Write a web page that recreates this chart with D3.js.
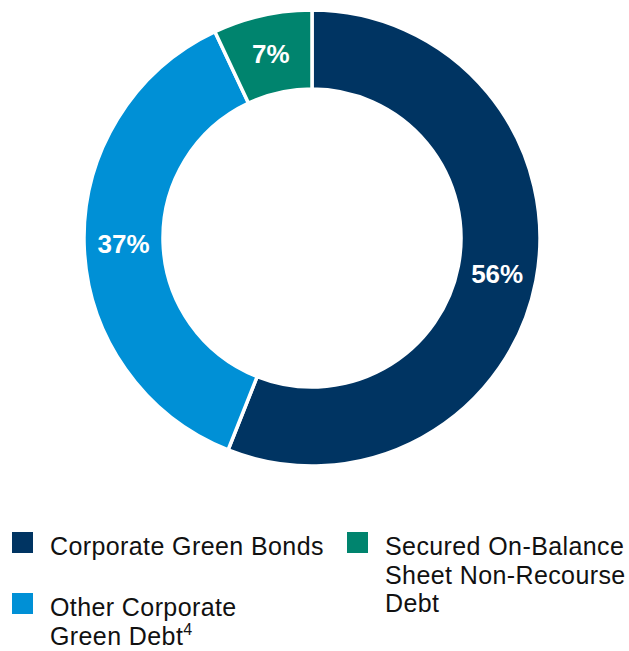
<!DOCTYPE html>
<html>
<head>
<meta charset="utf-8">
<script src="https://cdn.jsdelivr.net/npm/d3@7"></script>
<style>
  html, body { margin: 0; padding: 0; background: #fff; }
  svg { display: block; }
</style>
</head>
<body>
<svg id="chart" width="629" height="651"></svg>
<script>
// Share of green financing by type (percent)
const categories = ["Corporate Green Bonds", "Other Corporate Green Debt", "Secured On-Balance Sheet Non-Recourse Debt"];
const values = [56, 37, 7];
const labels = ["56%", "37%", "7%"];
const colors = ["#003462", "#0090D6", "#00846E"];

// Legend text, one array of lines per entry, plus an optional footnote marker
const legendLines = [
  ["Corporate Green Bonds"],
  ["Other Corporate", "Green Debt"],
  ["Secured On-Balance", "Sheet Non-Recourse", "Debt"]
];
const legendFootnote = [null, "4", null];

const svg = d3.select("#chart");
const cx = 312, cy = 238;
const outerR = 228, innerR = 149;

const pie = d3.pie().sort(null).value(d => d)
  .startAngle(0).endAngle(2 * Math.PI);
const arcs = pie(values);

const arc = d3.arc().innerRadius(innerR).outerRadius(outerR);
const labelArc = d3.arc().innerRadius((innerR + outerR) / 2).outerRadius((innerR + outerR) / 2);

const g = svg.append("g").attr("transform", `translate(${cx},${cy})`);

g.selectAll("path.slice")
  .data(arcs)
  .join("path")
  .attr("class", "slice")
  .attr("d", arc)
  .attr("fill", (d, i) => colors[i])
  .attr("stroke", "#fff")
  .attr("stroke-width", 3.5)
  .attr("stroke-linejoin", "miter");

g.selectAll("text.pct")
  .data(arcs)
  .join("text")
  .attr("class", "pct")
  .attr("transform", d => {
    const [x, y] = labelArc.centroid(d);
    return `translate(${x},${y})`;
  })
  .attr("text-anchor", "middle")
  .attr("dy", "0.36em")
  .attr("fill", "#fff")
  .style("font-family", "'Liberation Sans', Arial, sans-serif")
  .style("font-weight", "bold")
  .style("font-size", "26px")
  .text((d, i) => labels[i]);

// Legend: two columns
const legendPos = [
  { x: 12, y: 532 },
  { x: 12, y: 593 },
  { x: 347, y: 532 }
];
const sw = 21, textGap = 17, lineH = 28.5;

const leg = svg.append("g")
  .style("font-family", "'Liberation Sans', Arial, sans-serif")
  .style("font-size", "25px")
  .style("letter-spacing", "0.4px")
  .attr("fill", "#111");

legendLines.forEach((lines, i) => {
  const p = legendPos[i];
  leg.append("rect")
    .attr("x", p.x).attr("y", p.y)
    .attr("width", sw).attr("height", sw)
    .attr("fill", colors[i]);
  const t = leg.append("text")
    .attr("x", p.x + sw + textGap)
    .attr("y", p.y + 23);
  lines.forEach((line, j) => {
    t.append("tspan")
      .attr("x", p.x + sw + textGap)
      .attr("y", p.y + 23 + j * lineH)
      .text(line);
    if (j === lines.length - 1 && legendFootnote[i]) {
      t.append("tspan")
        .attr("dy", "-10")
        .style("font-size", "16px")
        .style("letter-spacing", "0px")
        .text(legendFootnote[i]);
    }
  });
});
</script>
</body>
</html>
